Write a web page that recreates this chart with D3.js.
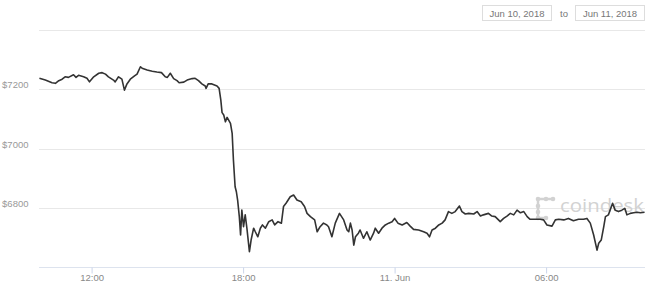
<!DOCTYPE html>
<html>
<head>
<meta charset="utf-8">
<script src="https://cdn.jsdelivr.net/npm/d3@7"></script>
<style>
  html, body { margin: 0; padding: 0; background: #fff; }
  svg { display: block; font-family: "Liberation Sans", Arial, sans-serif; }
</style>
</head>
<body>
<svg id="chart"></svg>
<script>
// minutes after 00:00 on Jun 10, 2018
const minutes = [596,610,626,634,642,650,657,665,677,683,689,701,709,715,725,737,745,753,760,772,776,784,792,798,804,812,822,828,836,840,852,864,875,886,895,900,907,915,923,928,939,947,959,966,974,982,990,992,997,1006,1018,1023,1027,1030,1034,1038,1042,1050,1054,1057,1061,1064,1067,1071,1074,1077,1081,1085,1089,1095,1099,1105,1109,1115,1121,1126,1133,1141,1149,1155,1163,1171,1176,1182,1187,1192,1200,1208,1218,1226,1232,1240,1250,1256,1263,1271,1279,1283,1291,1299,1309,1319,1327,1331,1335,1339,1343,1347,1354,1358,1366,1374,1382,1390,1394,1402,1410,1418,1426,1434,1440,1448,1458,1469,1477,1485,1497,1509,1517,1523,1529,1537,1545,1553,1560,1568,1576,1584,1594,1600,1608,1616,1628,1636,1644,1651,1663,1671,1679,1691,1699,1707,1715,1723,1731,1739,1747,1755,1762,1774,1786,1794,1802,1814,1822,1830,1842,1853,1865,1877,1889,1897,1905,1913,1921,1925,1931,1937,1941,1948,1958,1964,1972,1980,1987,1992,2000,2008,2016,2024,2034];
// BTC price, USD
const prices = [7237,7231,7222,7220,7229,7234,7242,7240,7249,7240,7247,7242,7237,7225,7242,7254,7256,7251,7242,7231,7225,7242,7234,7197,7218,7234,7245,7251,7276,7271,7265,7261,7258,7256,7242,7240,7254,7236,7229,7222,7224,7231,7236,7237,7229,7218,7211,7203,7218,7218,7211,7203,7164,7121,7113,7090,7105,7085,7051,6961,6871,6854,6826,6770,6708,6792,6736,6776,6731,6652,6691,6731,6719,6702,6731,6742,6731,6753,6759,6742,6753,6748,6804,6815,6826,6837,6843,6826,6820,6804,6781,6770,6759,6719,6736,6748,6742,6736,6702,6748,6781,6759,6725,6719,6748,6725,6674,6702,6714,6725,6697,6719,6691,6714,6731,6714,6731,6742,6748,6753,6764,6748,6742,6750,6738,6727,6725,6719,6714,6702,6725,6731,6742,6748,6759,6787,6781,6787,6806,6787,6779,6781,6779,6787,6772,6776,6781,6772,6770,6753,6764,6772,6781,6776,6792,6783,6787,6770,6761,6761,6761,6759,6742,6738,6759,6761,6759,6764,6756,6761,6761,6764,6748,6708,6657,6680,6691,6736,6770,6776,6815,6792,6787,6792,6798,6776,6781,6783,6785,6783,6785];

const gridValues = [6600, 6800, 7000, 7200, 7400];
const yLabelValues = [6800, 7000, 7200];
const xTickMinutes = [720, 1080, 1440, 1800];
const xTickLabels = ["12:00", "18:00", "11. Jun", "06:00"];
const dateFrom = "Jun 10, 2018";
const dateTo = "Jun 11, 2018";

const W = 650, H = 286;
const plotLeft = 39, plotRight = 645, plotTop = 30, plotBottom = 267;
const day0 = new Date(2018, 5, 10);
const toDate = m => new Date(day0.getTime() + m * 60000);

const data = minutes.map((m, i) => ({ t: toDate(m), p: prices[i] }));

const svg = d3.select("#chart").attr("width", W).attr("height", H);

const x = d3.scaleTime()
  .domain([toDate(595), toDate(2035)])
  .range([plotLeft, plotRight]);
const y = d3.scaleLinear()
  .domain([6600, 7400])
  .range([plotBottom, plotTop]);

// gridlines
svg.append("g").selectAll("line")
  .data(gridValues)
  .join("line")
  .attr("x1", plotLeft).attr("x2", plotRight)
  .attr("y1", d => Math.round(y(d)) + 0.5)
  .attr("y2", d => Math.round(y(d)) + 0.5)
  .attr("stroke", d => d === 6600 ? "#dde3ee" : "#e8e8e8")
  .attr("stroke-width", 1);

// y labels
svg.append("g").selectAll("text")
  .data(yLabelValues)
  .join("text")
  .attr("x", 28.5)
  .attr("y", d => y(d) - 1)
  .attr("text-anchor", "end")
  .attr("font-size", 9.5)
  .attr("fill", "#999")
  .text(d => "$" + d);

// x axis
const xAxis = d3.axisBottom(x)
  .tickValues(xTickMinutes.map(toDate))
  .tickFormat((d, i) => xTickLabels[i])
  .tickSize(6)
  .tickSizeOuter(0);
const gx = svg.append("g")
  .attr("transform", `translate(0,${Math.round(plotBottom) + 0.5})`)
  .call(xAxis);
gx.select(".domain").remove();
gx.selectAll(".tick line").attr("stroke", "#ccd6eb");
gx.selectAll(".tick text")
  .attr("fill", "#888")
  .attr("font-size", 9.5)
  .attr("font-family", "'Liberation Sans', Arial, sans-serif")
  .attr("dy", "0.9em")
  .attr("y", 5);

// watermark
const wm = svg.append("g").attr("fill", "#d2d2d2").attr("stroke", "#d2d2d2");
const logoDots = [[538,199],[546,199],[553,199],[538,206],[538,212],[538,218],[546,218]];
wm.append("path")
  .attr("d", "M538,199 L553,199 M538,199 L538,218 L546,218")
  .attr("fill", "none").attr("stroke-width", 2.5);
wm.selectAll("circle").data(logoDots).join("circle")
  .attr("cx", d => d[0]).attr("cy", d => d[1]).attr("r", 2.3).attr("stroke", "none");
wm.append("text")
  .attr("x", 560).attr("y", 212)
  .attr("stroke", "none")
  .attr("font-size", 19)
  .attr("font-family", "'Open Sans', 'Liberation Sans', sans-serif")
  .attr("textLength", 84)
  .attr("lengthAdjust", "spacingAndGlyphs")
  .text("coindesk");

// price line
const line = d3.line()
  .x(d => x(d.t))
  .y(d => y(d.p));
svg.append("path")
  .datum(data)
  .attr("d", line)
  .attr("fill", "none")
  .attr("stroke", "#333")
  .attr("stroke-width", 1.6)
  .attr("stroke-linejoin", "round");

// date range boxes
const boxes = [{ x: 482.5, label: dateFrom }, { x: 575.5, label: dateTo }];
const bg = svg.append("g").selectAll("g").data(boxes).join("g");
bg.append("rect")
  .attr("x", d => d.x).attr("y", 5.5)
  .attr("width", 69).attr("height", 15)
  .attr("fill", "#fff").attr("stroke", "#ddd");
bg.append("text")
  .attr("x", d => d.x + 34.5).attr("y", 16.5)
  .attr("text-anchor", "middle")
  .attr("font-size", 9.5)
  .attr("fill", "#777")
  .text(d => d.label);
svg.append("text")
  .attr("x", 564).attr("y", 16.5)
  .attr("text-anchor", "middle")
  .attr("font-size", 9.5)
  .attr("fill", "#777")
  .text("to");
</script>
</body>
</html>
